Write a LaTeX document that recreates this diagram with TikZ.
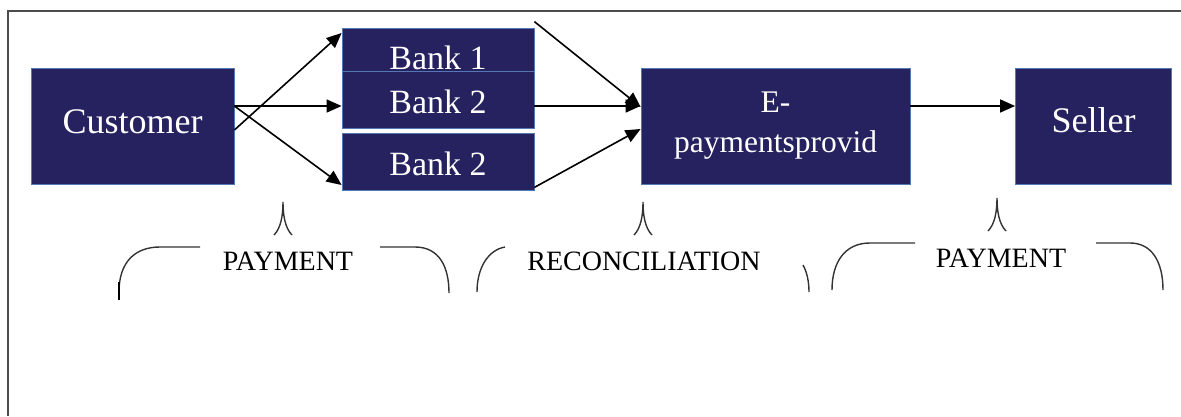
\documentclass[tikz,border=0pt]{standalone}
\usepackage{fontspec}
\setmainfont{Liberation Serif}
\usetikzlibrary{arrows.meta}
\definecolor{boxblue}{RGB}{38,34,96}
\definecolor{edgeblue}{RGB}{84,120,180}

\begin{document}
\begin{tikzpicture}[x=1pt,y=-1pt]
\tikzstyle{party node}=[rectangle,draw=edgeblue,line width=0.8pt,fill=boxblue,text=white,inner sep=0pt,font=\fontsize{36}{40}\selectfont]
\tikzstyle{bank node}=[party node,minimum width=192pt,minimum height=57pt,text height=27pt,text depth=0pt,font=\fontsize{34}{38}\selectfont]
\tikzset{
	flow/.style={-{Triangle[length=15pt,width=13pt]},line width=1.6pt},
	brace/.style={line width=1.4pt,black!80},
	tag/.style={font=\fontsize{28}{32}\selectfont}
}
\useasboundingbox (0,0) rectangle (1181,416);
\draw[line width=1.5pt,black!70] (1181,11) -- (8,11) -- (8,416);

\node[party node,minimum width=203pt,minimum height=116pt,text height=24pt,text depth=10pt] (customer) at (132.5,126) {Customer};
\node[bank node,minimum height=43pt,text height=39pt] (bankone) at (438,49.5) {Bank 1};
\node[bank node] (banktwo) at (438,99.5) {Bank 2};
\node[bank node] (bankthree) at (438,161.5) {Bank 2};
\node[party node,minimum width=269pt,minimum height=116pt,align=center,font=\fontsize{31.5}{40}\selectfont] (epay) at (775.5,126) {E-\\paymentsprovid};
\node[party node,minimum width=156pt,minimum height=116pt,text height=24pt,text depth=12pt] (seller) at (1093.5,126) {Seller};

\draw[flow] ([yshift=-4pt]customer.east) -- ([yshift=16.5pt]bankone.west);
\draw[flow] ([yshift=20pt]customer.east) coordinate (cmid) -- (cmid -| banktwo.west);
\draw[flow] (cmid) -- ([yshift=-23.5pt]bankthree.west);
\draw[flow] ([yshift=6pt]bankone.north east) -- ([yshift=19pt]epay.west);
\draw[flow] (cmid -| banktwo.east) -- (cmid -| epay.west);
\draw[flow] ([yshift=3pt]bankthree.south east) -- ([yshift=-3pt]epay.west);
\draw[flow] (cmid -| epay.east) -- (cmid -| seller.west);

\foreach \x/\y in {283/202,643/202,997/198}
	\draw[brace] (\x-9,\y+33) .. controls (\x-2,\y+26) and (\x,\y+13) .. (\x,\y) .. controls (\x,\y+13) and (\x+2,\y+26) .. (\x+9,\y+33);

\node[tag] (payone) at (288,261) {PAYMENT};
\node[tag] (recon) at (644,261) {RECONCILIATION};
\node[tag] (paytwo) at (1001,258) {PAYMENT};

\draw[brace] (200,247) -- (160,247) .. controls (135,247) and (119,262) .. (119,292);
\draw[line width=2.5pt] (119,282) -- (119,300);
\draw[brace] (380,247) -- (415,247) .. controls (440,247) and (449,268) .. (449,293);
\draw[brace] (505,247) .. controls (488,250) and (477,268) .. (477,292);
\draw[brace] (803,265) .. controls (807,272) and (809,282) .. (809,292);
\draw[brace] (915,243) -- (870,243) .. controls (845,243) and (832,262) .. (832,290);
\draw[brace] (1096,243) -- (1130,243) .. controls (1152,243) and (1163,262) .. (1163,290);
\end{tikzpicture}
\end{document}
